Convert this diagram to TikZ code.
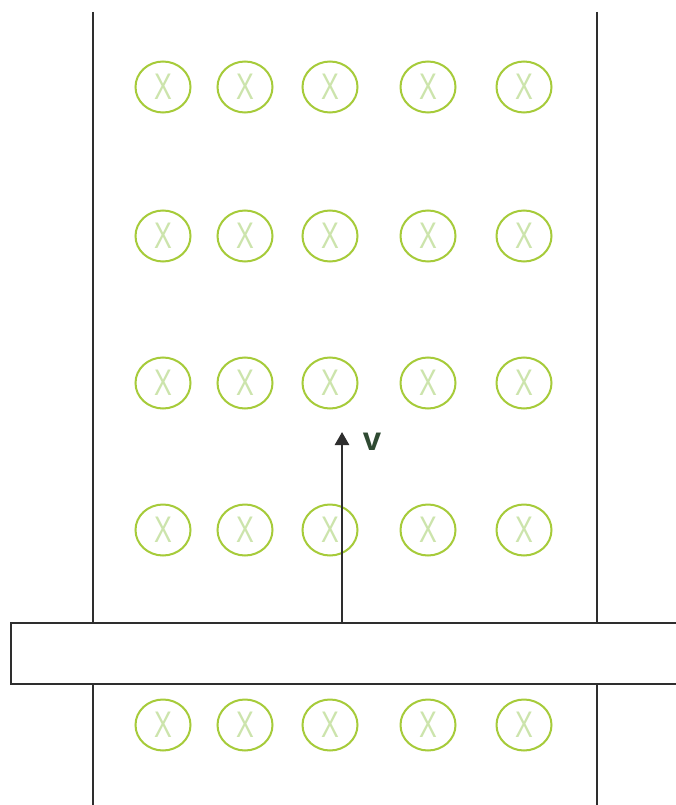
\documentclass[tikz,border=0pt]{standalone}
\usepackage{fontspec}
\setmainfont{Liberation Sans}
\usetikzlibrary{arrows.meta,shapes.geometric}
\definecolor{ringgreen}{HTML}{A6CB3A}
\definecolor{xgreen}{HTML}{CCE4AC}
\definecolor{vgreen}{HTML}{2F4A32}
\definecolor{linegray}{HTML}{2E2E2E}
\tikzset{
  field/.style={draw=ringgreen, line width=2pt, ellipse, minimum width=55pt, minimum height=51pt, inner sep=0pt,
    font=\fontsize{37}{37}\selectfont, text=xgreen},
  wall/.style={draw=linegray, line width=2.2pt},
  bar/.style={draw=linegray, line width=2.2pt, fill=white},
  velo/.style={draw=linegray, line width=2.6pt, -{Triangle[length=13pt,width=14pt]}},
  vlabel/.style={text=vgreen, font=\bfseries\fontsize{33}{33}\selectfont}
}
\begin{document}
\begin{tikzpicture}[x=1pt,y=-1pt]
\useasboundingbox (0,0) rectangle (675,805);
\fill[white] (0,0) rectangle (675,805);
% rails
\draw[wall] (93,12) -- (93,805);
\draw[wall] (597,12) -- (597,805);
% field markers
\foreach \r/\yy in {1/87, 2/236, 3/383, 4/530, 5/725}{
  \foreach \c/\xx in {1/163, 2/245, 3/330, 4/428, 5/524}{
    \node[field] (c\r\c) at (\xx,\yy) {\scalebox{0.72}[1]{X}};
  }
}
% sliding bar
\node[bar, minimum width=680pt, minimum height=61pt, anchor=north west, inner sep=0pt] (rod) at (10,622) {};
% velocity arrow
\coordinate (vstart) at (342,622);
\coordinate (vtip) at (342,432);
\draw[velo] (vstart) -- (vtip);
\node[vlabel, anchor=center] (v) at (372,442) {v};
\end{tikzpicture}
\end{document}
